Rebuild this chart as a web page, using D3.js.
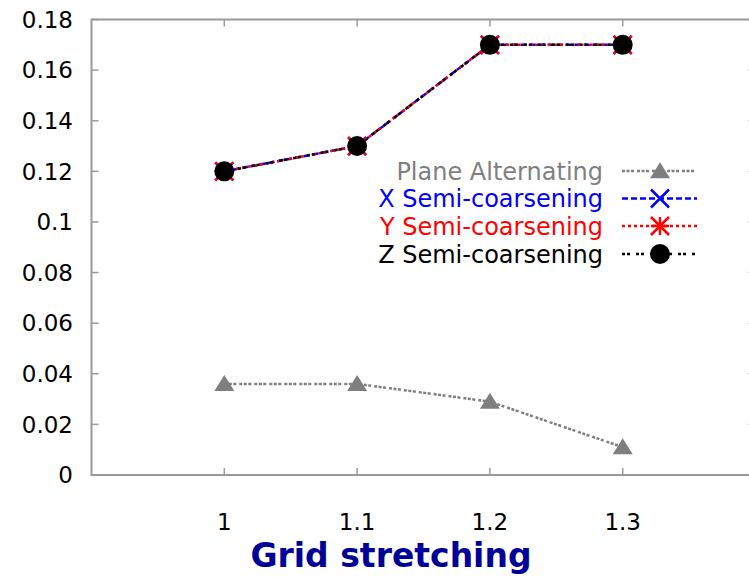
<!DOCTYPE html>
<html>
<head>
<meta charset="utf-8">
<script src="https://cdn.jsdelivr.net/npm/d3@7"></script>
<style>
  html, body { margin: 0; padding: 0; background: #fff; }
  svg { display: block; }
</style>
</head>
<body>
<svg id="chart" width="749" height="577"></svg>
<script>
// ---- data ----
const xValues = [1, 1.1, 1.2, 1.3];
const planeAlternating = [0.036, 0.036, 0.029, 0.011];
const xSemiCoarsening = [0.12, 0.13, 0.17, 0.17];
const ySemiCoarsening = [0.12, 0.13, 0.17, 0.17];
const zSemiCoarsening = [0.12, 0.13, 0.17, 0.17];
const xTicks = [1, 1.1, 1.2, 1.3];
const xTickLabels = ["1", "1.1", "1.2", "1.3"];
const yTicks = [0, 0.02, 0.04, 0.06, 0.08, 0.1, 0.12, 0.14, 0.16, 0.18];
const yTickLabels = ["0", "0.02", "0.04", "0.06", "0.08", "0.1", "0.12", "0.14", "0.16", "0.18"];
const seriesNames = ["Plane Alternating", "X Semi-coarsening", "Y Semi-coarsening", "Z Semi-coarsening"];
const xTitle = "Grid stretching";

(function () {
const svg = d3.select("#chart");
const pLeft = 91.5, pRight = 755.5, pTop = 19.5, pBottom = 475;
const x = d3.scaleLinear().domain([0.9, 1.4]).range([pLeft, pRight]);
const y = d3.scaleLinear().domain([0, 0.18]).range([pBottom, pTop]);

const axisColor = "#9a9a9a";
const font = "'DejaVu Sans', sans-serif";

// frame
svg.append("rect").attr("x", pLeft).attr("y", pTop)
  .attr("width", pRight - pLeft).attr("height", pBottom - pTop)
  .attr("fill", "none").attr("stroke", axisColor).attr("stroke-width", 2);

// ticks (mirrored, inward)
const tl = 7;
const tickG = svg.append("g").attr("stroke", axisColor).attr("stroke-width", 1.5);
xTicks.forEach(v => {
  tickG.append("line").attr("x1", x(v)).attr("x2", x(v)).attr("y1", pBottom).attr("y2", pBottom - tl);
  tickG.append("line").attr("x1", x(v)).attr("x2", x(v)).attr("y1", pTop).attr("y2", pTop + tl);
});
yTicks.forEach(v => {
  tickG.append("line").attr("x1", pLeft).attr("x2", pLeft + tl).attr("y1", y(v)).attr("y2", y(v));
  tickG.append("line").attr("x1", pRight).attr("x2", pRight - tl).attr("y1", y(v)).attr("y2", y(v));
});

// tick labels
svg.append("g").selectAll("text").data(yTicks).join("text")
  .attr("x", 73).attr("y", d => y(d) + 8.3)
  .attr("text-anchor", "end").attr("font-family", font).attr("font-size", 23)
  .attr("fill", "#000").text((d, i) => yTickLabels[i]);
svg.append("g").selectAll("text").data(xTicks).join("text")
  .attr("x", d => x(d)).attr("y", 529.5)
  .attr("text-anchor", "middle").attr("font-family", font).attr("font-size", 23)
  .attr("fill", "#000").text((d, i) => xTickLabels[i]);

// axis title
svg.append("text").attr("x", 391).attr("y", 567)
  .attr("text-anchor", "middle").attr("font-family", font).attr("font-weight", "bold")
  .attr("font-size", 33).attr("fill", "#000099").text(xTitle);

// markers
function drawMarker(g, type, cx, cy, color) {
  if (type === "triangle") {
    const w = 10, h = 16;
    g.append("path").attr("d", `M${cx},${cy - h * 0.55}L${cx + w},${cy + h * 0.45}L${cx - w},${cy + h * 0.45}Z`)
      .attr("fill", color);
  } else if (type === "cross") {
    const s = 9;
    g.append("path").attr("d", `M${cx - s},${cy - s}L${cx + s},${cy + s}M${cx - s},${cy + s}L${cx + s},${cy - s}`)
      .attr("stroke", color).attr("stroke-width", 2.5).attr("fill", "none");
  } else if (type === "star") {
    const s = 9;
    g.append("path").attr("d", `M${cx - s},${cy - s}L${cx + s},${cy + s}M${cx - s},${cy + s}L${cx + s},${cy - s}M${cx - s},${cy}L${cx + s},${cy}M${cx},${cy - s}L${cx},${cy + s}`)
      .attr("stroke", color).attr("stroke-width", 2.5).attr("fill", "none");
  } else if (type === "circle") {
    g.append("circle").attr("cx", cx).attr("cy", cy).attr("r", 10).attr("fill", color);
  }
}

const series = [
  { name: seriesNames[0], values: planeAlternating, color: "#7f7f7f", dash: "3,1.5,3,1.5,3,3", marker: "triangle" },
  { name: seriesNames[1], values: xSemiCoarsening, color: "#0000ff", dash: "6,3", marker: "cross" },
  { name: seriesNames[2], values: ySemiCoarsening, color: "#ff0000", dash: "3,3", marker: "star" },
  { name: seriesNames[3], values: zSemiCoarsening, color: "#000000", dash: "3,2,3,6", marker: "circle" }
];

const line = d3.line().x(d => x(d[0])).y(d => y(d[1]));
series.forEach(s => {
  const pts = xValues.map((v, i) => [v, s.values[i]]);
  svg.append("path").datum(pts).attr("d", line)
    .attr("fill", "none").attr("stroke", s.color).attr("stroke-width", 2.5)
    .attr("stroke-dasharray", s.dash);
});
series.forEach(s => {
  const g = svg.append("g");
  xValues.forEach((v, i) => drawMarker(g, s.marker, x(v), y(s.values[i]), s.color));
});

// legend
const legendY = [171, 198.5, 226, 254];
series.forEach((s, i) => {
  const cy = legendY[i];
  svg.append("text").attr("x", 603).attr("y", cy + 8.5)
    .attr("text-anchor", "end").attr("font-family", font).attr("font-size", 24)
    .attr("fill", s.color).text(s.name);
  svg.append("line").attr("x1", 622).attr("x2", 697).attr("y1", cy).attr("y2", cy)
    .attr("stroke", s.color).attr("stroke-width", 2.5).attr("stroke-dasharray", s.dash);
  const g = svg.append("g");
  drawMarker(g, s.marker, 660, cy, s.color);
});
})();
</script>
</body>
</html>
